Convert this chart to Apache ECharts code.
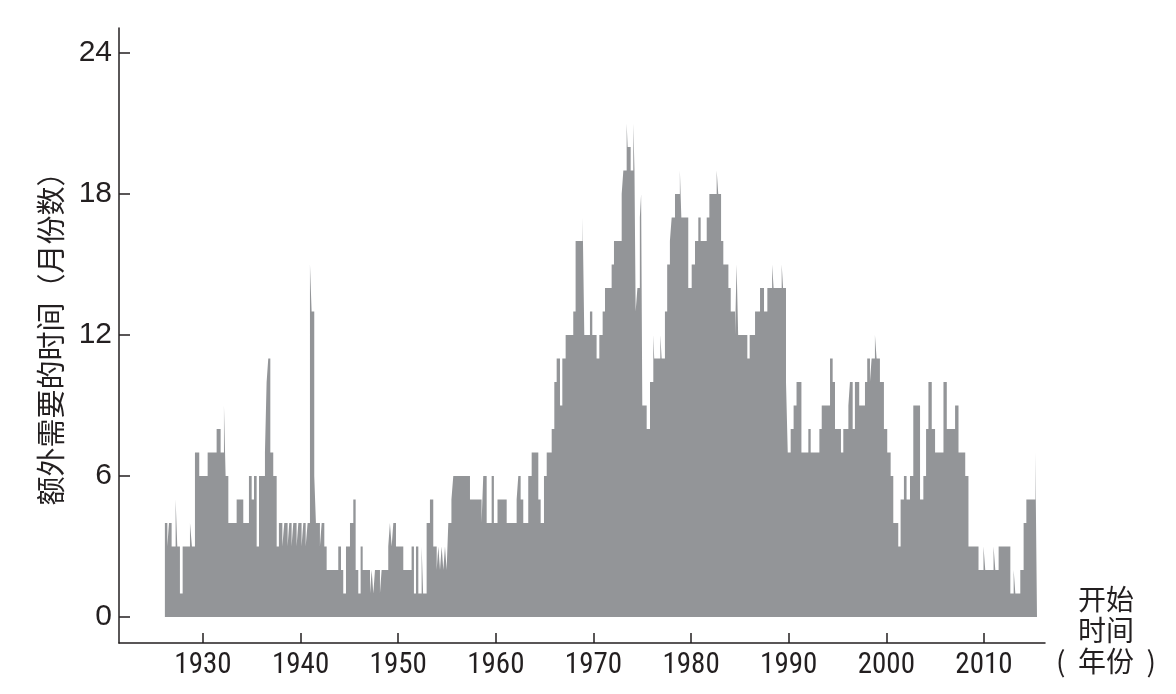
<!DOCTYPE html>
<html>
<head>
<meta charset="utf-8">
<script src="https://cdn.jsdelivr.net/npm/echarts@6/dist/echarts.min.js"></script>
<style>
html,body{margin:0;padding:0;background:#ffffff;}
#chart{width:1176px;height:694px;}
</style>
</head>
<body>
<div id="chart"></div>
<script>
// Tick labels
const yTicks = [0, 6, 12, 18, 24];
const xTicks = [1930, 1940, 1950, 1960, 1970, 1980, 1990, 2000, 2010];

// Step data: start of each step (decimal year) and value held (months needed)
const start1 = [1926.10,1926.35,1926.52,1926.79,1927.20,1927.37,1927.64,1927.92,1928.67,1928.87,
  1929.18,1929.62,1930.48,1931.40,1931.81,1932.15,1932.32,1932.60,1933.45,1934.13,
  1934.71,1934.99,1935.23,1935.50,1935.74,1936.35,1936.52,1936.69,1936.90,1937.20,
  1937.55,1937.78,1938.13,1938.33,1938.67,1938.84,1939.08,1939.25,1939.59,1939.77,
  1940.10,1940.28,1940.52,1940.72,1940.96,1941.13,1941.40];
const months1 = [4,3,4,3,5,3,1,3,4,3,
  7,6,7,8,7,9,6,4,5,4,
  6,5,6,3,6,7,10,11,7,6,
  3,4,3,4,3,4,3,4,3,4,
  3,4,3,4,15,13,6];

const start2 = [1941.57,1941.98,1942.16,1942.43,1942.67,1943.86,1944.14,1944.37,1944.65,1945.06,
  1945.40,1945.64,1945.91,1946.15,1946.36,1947.11,1947.28,1947.45,1947.62,1948.13,
  1948.30,1948.98,1949.15,1949.33,1949.50,1949.77,1950.52,1951.37,1951.61,1951.82,
  1952.06,1952.40,1952.55,1952.91,1953.25,1953.59,1953.94,1954.11,1954.28,1954.45,
  1954.62,1954.79,1954.96,1955.13,1955.45,1955.64,1957.35];
const months2 = [4,3,4,3,2,3,2,1,3,4,
  5,2,1,3,2,1,2,1,2,1,
  2,3,4,3,4,3,2,3,1,3,
  1,3,1,4,5,3,2,3,2,3,
  2,3,2,4,5,6,5];

const start3 = [1958.54,1958.71,1959.06,1959.57,1959.80,1960.17,1961.11,1962.13,1962.30,1962.54,
  1962.81,1963.32,1963.67,1964.35,1964.59,1964.93,1965.21,1965.72,1965.99,1966.23,
  1966.57,1966.81,1967.15,1967.93,1968.17,1968.89,1969.06,1969.64,1969.88,1970.32,
  1970.60,1970.94,1971.18,1971.86,1972.10,1972.89,1973.06,1973.40,1973.50,1973.81,
  1974.08,1974.20,1974.32,1974.50,1974.75,1974.88];
const months3 = [4,6,4,6,4,5,4,5,6,5,
  4,6,7,5,4,6,7,8,10,11,
  9,11,12,13,16,17,12,13,12,11,
  12,13,14,15,16,18,19,21,20,19,
  21,19,13,14,17,18];

const start4 = [1975.00,1975.45,1975.79,1976.13,1976.22,1976.85,1976.98,1977.32,1977.55,1977.83,
  1978.01,1978.35,1978.85,1979.00,1979.71,1980.06,1980.40,1980.74,1980.98,1981.60,
  1981.87,1982.62,1982.78,1983.07,1983.30,1983.82,1984.06,1984.50,1984.66,1984.82,
  1985.76,1986.00,1986.55,1987.06,1987.47,1987.81,1988.30,1988.45,1989.28,1989.42,
  1989.72,1989.90,1990.20,1990.50,1990.80];
const months4 = [9,8,10,12,11,12,11,13,15,16,
  17,18,19,17,14,15,16,17,16,17,
  18,19,18,16,15,14,13,12,15,12,
  11,12,13,14,13,14,15,14,15,14,
  10,7,8,9,10];

const start5 = [1991.30,1992.01,1992.25,1993.14,1993.38,1994.23,1994.50,1994.74,1995.35,1995.59,
  1996.11,1996.27,1996.55,1996.78,1997.22,1997.81,1998.04,1998.32,1998.49,1998.83,
  1999.00,1999.34,1999.75,2000.09,2000.44,2000.71,2001.22,2001.46,2001.80,2002.07,
  2002.42,2002.76,2003.45,2003.79,2004.07,2004.31,2004.65,2004.99,2005.85,2006.19,
  2007.04,2007.39,2008.08,2008.41,2009.44,2009.95,2010.13,2010.98,2011.16,2011.50,
  2012.70,2013.04,2013.21,2013.72,2014.06,2014.34,2015.26];
const months5 = [7,8,7,8,9,11,10,8,7,8,
  9,10,8,10,9,10,11,10,11,12,
  11,10,8,7,6,4,3,5,6,5,
  6,9,5,6,8,10,8,7,10,8,
  9,7,6,3,2,3,2,3,2,3,
  1,2,1,2,4,5,7];

const lastStepEnd = 2015.43;

const starts = start1.concat(start2, start3, start4, start5);
const months = months1.concat(months2, months3, months4, months5);
const seriesData = starts.map((s, i) => [s, months[i]]);
seriesData.push([lastStepEnd, months[months.length - 1]]);

const ink = '#231f20';
const chart = echarts.init(document.getElementById('chart'));
chart.setOption({
  animation: false,
  backgroundColor: '#ffffff',
  grid: { left: 119, right: 131, top: 28, bottom: 51, containLabel: false, outerBoundsMode: 'none' },
  graphic: [{
    type: 'text',
    x: 1106,
    y: 584,
    silent: true,
    style: {
      text: '开始\n时间\n(  年份  )',
      fontFamily: '"Noto Sans CJK SC", sans-serif',
      fontSize: 28,
      lineHeight: 31,
      fill: ink,
      align: 'center',
      verticalAlign: 'top'
    }
  }],
  xAxis: {
    type: 'value',
    min: 1921.4,
    max: 2016.25,
    axisLine: { show: true, onZero: false, lineStyle: { color: ink, width: 1.5 } },
    axisTick: { show: true, inside: true, length: 10, customValues: xTicks, lineStyle: { color: ink, width: 1.5 } },
    axisLabel: {
      customValues: xTicks,
      formatter: v => String(v),
      margin: 8,
      fontFamily: '"Liberation Sans Narrow", "Roboto Condensed", "DejaVu Sans Condensed", sans-serif',
      fontSize: 29,
      color: ink
    },
    splitLine: { show: false }
  },
  yAxis: {
    type: 'value',
    min: -1.106,
    max: 25.064,
    name: '额外需要的时间（月份数）',
    nameLocation: 'middle',
    nameRotate: 90,
    nameGap: 54,
    nameTextStyle: {
      fontFamily: '"Noto Sans CJK SC", sans-serif',
      fontSize: 29,
      color: ink,
      padding: [0, 0, 0, 8]
    },
    axisLine: { show: true, onZero: false, lineStyle: { color: ink, width: 1.5 } },
    axisTick: { show: true, inside: true, length: 11, customValues: yTicks, lineStyle: { color: ink, width: 1.5 } },
    axisLabel: {
      customValues: yTicks,
      formatter: v => String(v),
      margin: 7,
      fontFamily: '"Liberation Sans", sans-serif',
      fontSize: 30,
      color: ink
    },
    splitLine: { show: false }
  },
  series: [{
    type: 'line',
    step: 'end',
    symbol: 'none',
    data: seriesData,
    lineStyle: { width: 0, color: '#939598' },
    areaStyle: { color: '#939598', opacity: 1, origin: 0 },
    silent: true
  }]
});
</script>
</body>
</html>
